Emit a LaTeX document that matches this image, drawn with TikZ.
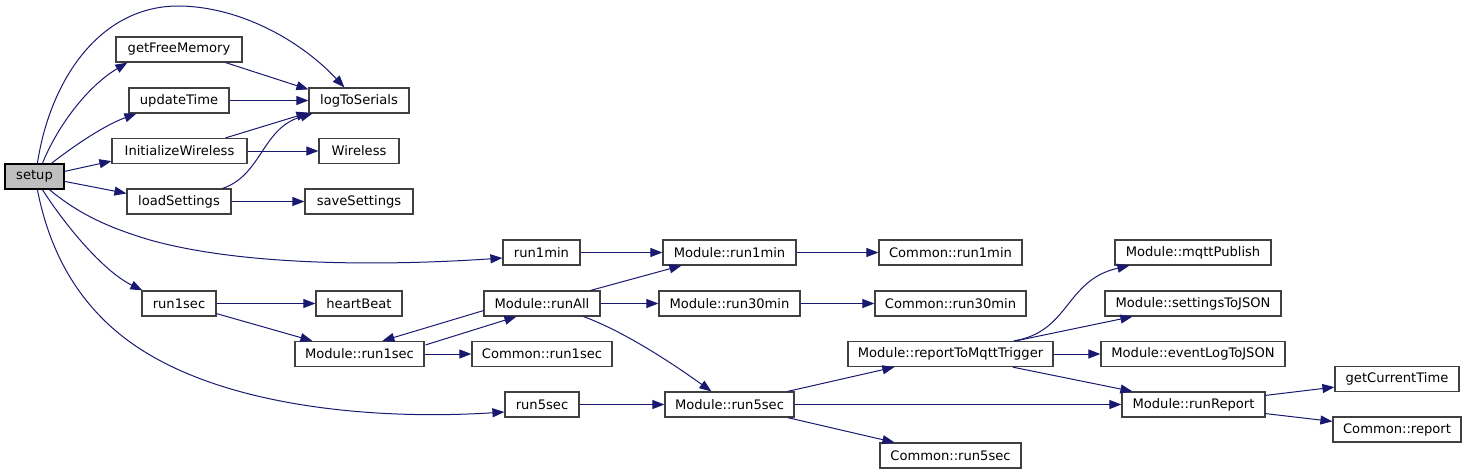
\documentclass[tikz,border=0pt]{standalone}
\usepackage{fontspec}
\setmainfont{DejaVu Sans}
\usetikzlibrary{arrows.meta,calc}
\definecolor{edgeblue}{HTML}{191970}
\definecolor{boxline}{HTML}{404040}
\definecolor{setupfill}{HTML}{BFBFBF}
\tikzset{
  fn/.style={draw=boxline, line width=1.2pt, fill=white, inner sep=0pt, minimum height=25pt,
    font=\fontsize{13.1}{16}\selectfont, text=black},
  root/.style={fn, draw=black, fill=setupfill},
  edge/.style={draw=edgeblue, line width=1pt, -{Triangle[length=12pt,width=9pt]}},
}
\begin{document}
\begin{tikzpicture}[x=1pt,y=-1pt]
\useasboundingbox (0,0) rectangle (1467,474);
% column 1
\node[root, minimum width=59pt] (setup) at (34.5,176.5) {setup};
% column 2
\node[fn, minimum width=126pt] (getFreeMemory) at (179,49.5) {getFreeMemory};
\node[fn, minimum width=100pt] (updateTime) at (179,100.5) {updateTime};
\node[fn, minimum width=135pt] (InitializeWireless) at (179.5,151) {InitializeWireless};
\node[fn, minimum width=104pt] (loadSettings) at (179,201.5) {loadSettings};
\node[fn, minimum width=74pt] (run1sec) at (179,303.5) {run1sec};
% column 3
\node[fn, minimum width=100pt] (logToSerials) at (359,100.5) {logToSerials};
\node[fn, minimum width=80pt] (Wireless) at (359,151) {Wireless};
\node[fn, minimum width=108pt] (saveSettings) at (359,201.5) {saveSettings};
\node[fn, minimum width=86pt] (heartBeat) at (359,303.5) {heartBeat};
\node[fn, minimum width=129pt] (mrun1sec) at (359.5,354) {Module::run1sec};
% column 4
\node[fn, minimum width=77pt] (run1min) at (541.5,252.5) {run1min};
\node[fn, minimum width=116pt] (runAll) at (542,303.5) {Module::runAll};
\node[fn, minimum width=140pt] (crun1sec) at (542,354) {Common::run1sec};
\node[fn, minimum width=74pt] (run5sec) at (542,404.5) {run5sec};
% column 5
\node[fn, minimum width=133pt] (mrun1min) at (729.5,252.5) {Module::run1min};
\node[fn, minimum width=141pt] (mrun30min) at (729.5,303.5) {Module::run30min};
\node[fn, minimum width=129pt] (mrun5sec) at (729.5,404.5) {Module::run5sec};
% column 6
\node[fn, minimum width=143pt] (crun1min) at (950.5,252.5) {Common::run1min};
\node[fn, minimum width=151pt] (crun30min) at (950.5,303.5) {Common::run30min};
\node[fn, minimum width=205pt] (report) at (950.5,354) {Module::reportToMqttTrigger};
\node[fn, minimum width=141pt] (crun5sec) at (950.5,455.5) {Common::run5sec};
% column 7
\node[fn, minimum width=156pt] (mqttPublish) at (1193,252.5) {Module::mqttPublish};
\node[fn, minimum width=176pt] (settingsToJSON) at (1193,303.5) {Module::settingsToJSON};
\node[fn, minimum width=184pt] (eventLogToJSON) at (1193,354) {Module::eventLogToJSON};
\node[fn, minimum width=143pt] (runReport) at (1193.5,404.5) {Module::runReport};
% column 8
\node[fn, minimum width=124pt] (getCurrentTime) at (1397,379) {getCurrentTime};
\node[fn, minimum width=128pt] (creport) at (1397,429.5) {Common::report};

% edges from setup
\draw[edge] ($(setup.north west)+(33,0)$) .. controls (50,80) and (100,5) .. (180,6)
  .. controls (240,7) and (300,40) .. ($(logToSerials.north west)+(36,0)$);
\draw[edge] ($(setup.north west)+(38,0)$) .. controls (58,125) and (88,86) .. ($(getFreeMemory.south west)+(12,0)$);
\draw[edge] ($(setup.north west)+(47,0)$) .. controls (75,145) and (105,125) .. ($(updateTime.south west)+(8,0)$);
\draw[edge] ($(setup.north east)+(0,8)$) -- ($(InitializeWireless.south west)+(0,-3)$);
\draw[edge] ($(setup.north east)+(0,18)$) -- ($(loadSettings.north west)+(0,5)$);
\draw[edge] ($(setup.south west)+(45,0)$) .. controls (80,215) and (110,228) .. (150,240)
  .. controls (250,268) and (400,265) .. ($(run1min.west)+(0,5.5)$);
\draw[edge] ($(setup.south west)+(38,0)$) .. controls (65,225) and (103,271) .. ($(run1sec.north west)+(1,0)$);
\draw[edge] ($(setup.south west)+(33,0)$) .. controls (52,265) and (90,320) .. (150,355)
  .. controls (240,408) and (380,420) .. ($(run5sec.west)+(0,7.5)$);
% to logToSerials etc.
\draw[edge] ($(getFreeMemory.south east)+(-17,0)$) -- ($(logToSerials.north west)+(0,2)$);
\draw[edge] (updateTime.east) -- (logToSerials.west);
\draw[edge] ($(InitializeWireless.north east)+(-22,0)$) -- ($(logToSerials.south west)+(0,-1)$);
\draw[edge] (InitializeWireless.east) -- (Wireless.west);
\draw[edge] ($(loadSettings.north east)+(-9,0)$) .. controls (262,175) and (262,128) .. ($(logToSerials.south west)+(4,0)$);
\draw[edge] (loadSettings.east) -- (saveSettings.west);
% run1sec / run1min
\draw[edge] (run1min.east) -- (mrun1min.west);
\draw[edge] (run1sec.east) -- (heartBeat.west);
\draw[edge] ($(run1sec.south east)+(0,-3)$) -- ($(mrun1sec.north west)+(18,0)$);
\draw[edge] ($(runAll.south west)+(0,-6)$) -- ($(mrun1sec.north west)+(88,0)$);
\draw[edge] ($(mrun1sec.north east)+(1,4)$) -- ($(runAll.south west)+(33,0)$);
\draw[edge] (mrun1sec.east) -- (crun1sec.west);
\draw[edge] ($(runAll.north east)+(-10,0)$) -- ($(mrun1min.south west)+(19,0)$);
\draw[edge] (runAll.east) -- (mrun30min.west);
\draw[edge] ($(runAll.south east)+(-17,0)$) .. controls (620,330) and (665,358) .. ($(mrun5sec.north west)+(47,0)$);
\draw[edge] (run5sec.east) -- (mrun5sec.west);
% column 5 out
\draw[edge] (mrun1min.east) -- (crun1min.west);
\draw[edge] (mrun30min.east) -- (crun30min.west);
\draw[edge] ($(mrun5sec.north east)+(-7,0)$) -- ($(report.south west)+(47,0)$);
\draw[edge] (mrun5sec.east) -- (runReport.west);
\draw[edge] ($(mrun5sec.south east)+(-7,0)$) -- ($(crun5sec.north west)+(15,0)$);
% column 6 out
\draw[edge] ($(report.north east)+(-40,0)$) .. controls (1070,332) and (1065,280) .. ($(mqttPublish.south west)+(15,0)$);
\draw[edge] ($(report.north east)+(-38,0)$) -- ($(settingsToJSON.south west)+(28,0)$);
\draw[edge] (report.east) -- (eventLogToJSON.west);
\draw[edge] ($(report.south east)+(-41,0)$) -- ($(runReport.north west)+(11,0)$);
% column 7 out
\draw[edge] ($(runReport.north east)+(0,4)$) -- ($(getCurrentTime.south west)+(0,-5)$);
\draw[edge] ($(runReport.south east)+(0,-4)$) -- ($(creport.north west)+(0,5)$);
\end{tikzpicture}
\end{document}
